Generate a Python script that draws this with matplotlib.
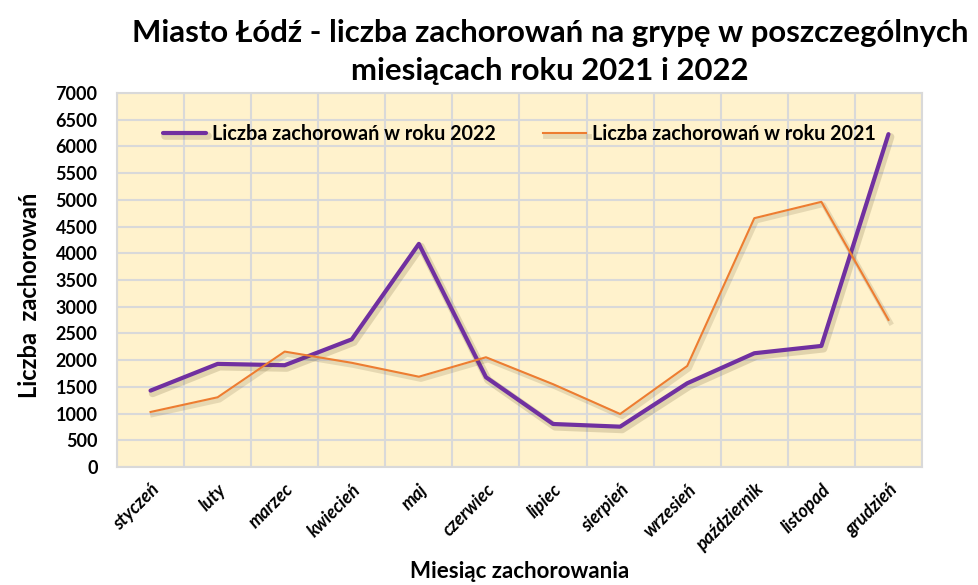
import matplotlib
matplotlib.use("Agg")
import matplotlib.pyplot as plt
import matplotlib.patheffects as pe

months = ["styczeń", "luty", "marzec", "kwiecień", "maj", "czerwiec", "lipiec",
          "sierpień", "wrzesień", "październik", "listopad", "grudzień"]
cases_2022 = [1430, 1930, 1905, 2390, 4176, 1680, 805, 755, 1567, 2129, 2266, 6230]
cases_2021 = [1030, 1305, 2160, 1950, 1690, 2054, 1550, 992, 1891, 4657, 4963, 2753]
yticks = list(range(0, 7001, 500))

FONT = ["Lato", "DejaVu Sans"]
plt.rcParams['font.family'] = FONT

fig = plt.figure(figsize=(9.79, 5.85), dpi=100)
ax = fig.add_axes([117/979, 1 - 467/585, (922-117)/979, (467-93)/585])
ax.set_facecolor("#FFF2CC")

x = list(range(len(months)))
shadow_p = [pe.SimpleLineShadow(offset=(1.5, -2), shadow_color="#5a4a20", alpha=0.18, linewidth=5.5), pe.Normal()]
shadow_o = [pe.SimpleLineShadow(offset=(1.5, -2), shadow_color="#5a4a20", alpha=0.15, linewidth=3.5), pe.Normal()]
ax.plot(x, cases_2022, color="#7030A0", lw=3.0, solid_capstyle="round",
        label="Liczba zachorowań w roku 2022", path_effects=shadow_p, zorder=3)
ax.plot(x, cases_2021, color="#ED7D31", lw=1.5,
        label="Liczba zachorowań w roku 2021", path_effects=shadow_o, zorder=3)

ax.set_xlim(-0.5, len(months) - 0.5)
ax.set_ylim(0, 7000)
ax.set_yticks(yticks)
ax.set_yticklabels([str(v) for v in yticks], fontsize=13, fontweight="bold")
ax.set_xticks(x)
ax.set_xticklabels(months, rotation=45, ha="right", rotation_mode="anchor",
                   fontsize=13, fontweight="bold", style="italic")
ax.set_xticks([i - 0.5 for i in range(len(months) + 1)], minor=True)
ax.grid(True, axis="y", color="#D9D9D9", lw=1.5, zorder=0)
ax.grid(True, axis="x", which="minor", color="#D9D9D9", lw=1.5, zorder=0)
ax.grid(False, axis="x", which="major")
ax.tick_params(axis="both", which="both", length=0)
ax.tick_params(axis="y", pad=14)
ax.tick_params(axis="x", pad=10)
for s in ax.spines.values():
    s.set_color("#D9D9D9")
    s.set_linewidth(1.5)
ax.set_axisbelow(True)

ax.set_ylabel("Liczba  zachorowań", fontsize=17, fontweight="bold")
ax.yaxis.set_label_coords(-0.095, 0.46)
ax.set_xlabel("Miesiąc zachorowania", fontsize=16, fontweight="bold", labelpad=5)

fig.text(550/979, 1 - 52/585, "Miasto Łódź - liczba zachorowań na grypę w poszczególnych\nmiesiącach roku 2021 i 2022",
         ha="center", va="center", fontsize=22.4, fontweight="bold", linespacing=1.45)

ax.legend(loc="upper center", bbox_to_anchor=(0.5, 0.965), ncol=2, frameon=False,
          prop={"weight": "bold", "size": 14.2}, handlelength=2.2, columnspacing=2.4,
          handletextpad=0.3)

fig.savefig("out.png", dpi=100)
